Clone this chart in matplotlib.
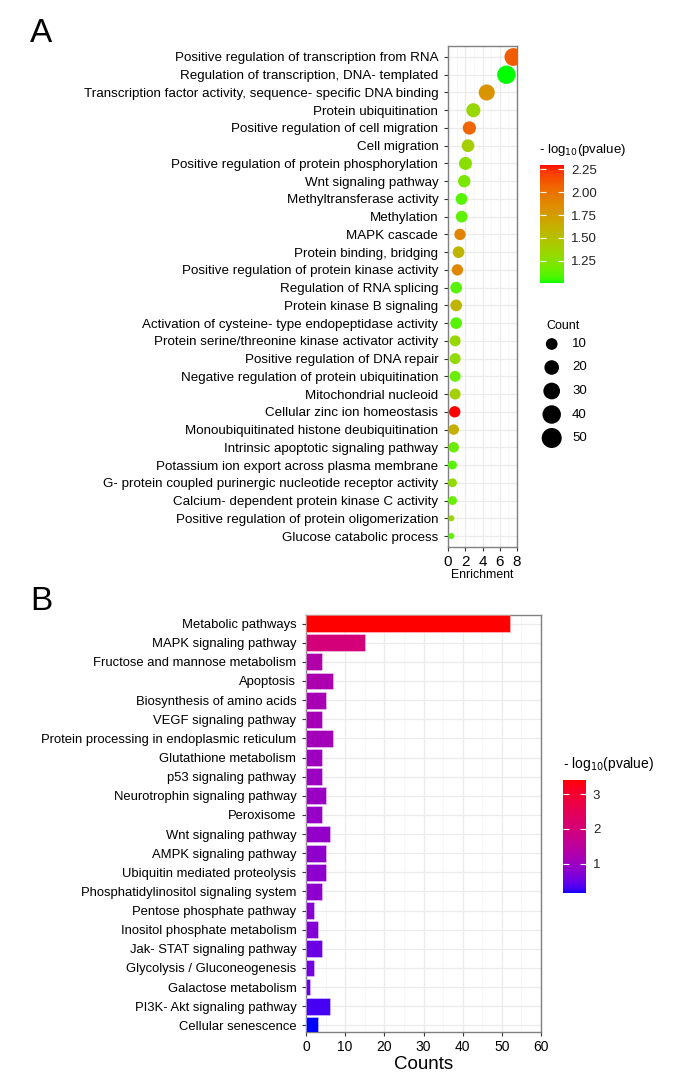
"""Recreate the GO bubble chart (A) and KEGG bar chart (B)."""

import matplotlib

matplotlib.use("Agg")
import matplotlib.pyplot as plt
import numpy as np
from matplotlib.cm import ScalarMappable
from matplotlib.colors import LinearSegmentedColormap, Normalize

plt.rcParams["font.family"] = ["Liberation Sans", "DejaVu Sans"]

# panel A: GO terms, top to bottom
go_terms = [
    "Positive regulation of transcription from RNA",
    "Regulation of transcription, DNA- templated",
    "Transcription factor activity, sequence- specific DNA binding",
    "Protein ubiquitination",
    "Positive regulation of cell migration",
    "Cell migration",
    "Positive regulation of protein phosphorylation",
    "Wnt signaling pathway",
    "Methyltransferase activity",
    "Methylation",
    "MAPK cascade",
    "Protein binding, bridging",
    "Positive regulation of protein kinase activity",
    "Regulation of RNA splicing",
    "Protein kinase B signaling",
    "Activation of cysteine- type endopeptidase activity",
    "Protein serine/threonine kinase activator activity",
    "Positive regulation of DNA repair",
    "Negative regulation of protein ubiquitination",
    "Mitochondrial nucleoid",
    "Cellular zinc ion homeostasis",
    "Monoubiquitinated histone deubiquitination",
    "Intrinsic apoptotic signaling pathway",
    "Potassium ion export across plasma membrane",
    "G- protein coupled purinergic nucleotide receptor activity",
    "Calcium- dependent protein kinase C activity",
    "Positive regulation of protein oligomerization",
    "Glucose catabolic process",
]
go_enrichment = [7.58, 6.77, 4.49, 2.94, 2.48, 2.32, 2.03, 1.88, 1.57, 1.59,
                 1.39, 1.22, 1.09, 0.95, 0.95, 0.95, 0.83, 0.83, 0.83, 0.83,
                 0.78, 0.66, 0.66, 0.52, 0.52, 0.52, 0.39, 0.39]
go_count = [36, 40, 27, 18, 15, 13, 14, 12, 10, 10, 9, 10, 9, 10, 10, 10,
            8, 8, 8, 8, 9, 7, 7, 4, 4, 4, 2, 2]
go_logp = [2.10, 1.01, 1.80, 1.32, 2.05, 1.40, 1.26, 1.20, 1.10, 1.12,
           1.90, 1.58, 1.88, 1.10, 1.58, 1.10, 1.32, 1.30, 1.15, 1.38,
           2.30, 1.62, 1.16, 1.10, 1.30, 1.14, 1.32, 1.10]
go_logp_range = (1.007, 2.297)
go_colorbar_ticks = [1.25, 1.50, 1.75, 2.00, 2.25]
count_legend_values = [10, 20, 30, 40, 50]
enrichment_ticks = [0, 2, 4, 6, 8]

# panel B: KEGG pathways, top to bottom
kegg_pathways = [
    "Metabolic pathways",
    "MAPK signaling pathway",
    "Fructose and mannose metabolism",
    "Apoptosis",
    "Biosynthesis of amino acids",
    "VEGF signaling pathway",
    "Protein processing in endoplasmic reticulum",
    "Glutathione metabolism",
    "p53 signaling pathway",
    "Neurotrophin signaling pathway",
    "Peroxisome",
    "Wnt signaling pathway",
    "AMPK signaling pathway",
    "Ubiquitin mediated proteolysis",
    "Phosphatidylinositol signaling system",
    "Pentose phosphate pathway",
    "Inositol phosphate metabolism",
    "Jak- STAT signaling pathway",
    "Glycolysis / Gluconeogenesis",
    "Galactose metabolism",
    "PI3K- Akt signaling pathway",
    "Cellular senescence",
]
kegg_counts = [52, 15, 4, 7, 5, 4, 7, 4, 4, 5, 4, 6, 5, 5, 4, 2, 3, 4, 2, 1, 6, 3]
kegg_logp = [3.41, 2.00, 1.30, 1.22, 1.15, 1.12, 1.08, 1.02, 0.98, 0.95, 0.92,
             0.88, 0.85, 0.82, 0.80, 0.75, 0.70, 0.50, 0.55, 0.45, 0.30, 0.15]
kegg_logp_range = (0.15, 3.41)
kegg_colorbar_ticks = [1, 2, 3]
counts_ticks = [0, 10, 20, 30, 40, 50, 60]

FIG_W, FIG_H = 685, 1087
GRID_MAJOR = "#ebebeb"
GRID_MINOR = "#f4f4f4"
BORDER = "#808080"

# sRGB <-> CIELAB so the gradients blend like ggplot's scale_colour_gradient
_M = np.array([[0.4124, 0.3576, 0.1805],
               [0.2126, 0.7152, 0.0722],
               [0.0193, 0.1192, 0.9505]])
_WHITE = np.array([0.95047, 1.0, 1.08883])
_D = 6 / 29


def srgb_to_lab(rgb):
    rgb = np.asarray(rgb, float)
    lin = np.where(rgb <= 0.04045, rgb / 12.92, ((rgb + 0.055) / 1.055) ** 2.4)
    xyz = _M @ lin / _WHITE
    f = np.where(xyz > _D ** 3, np.cbrt(xyz), xyz / (3 * _D ** 2) + 4 / 29)
    return np.array([116 * f[1] - 16, 500 * (f[0] - f[1]), 200 * (f[1] - f[2])])


def lab_to_srgb(lab):
    L, a, b = lab
    fy = (L + 16) / 116
    f = np.array([fy + a / 500, fy, fy - b / 200])
    xyz = np.where(f > _D, f ** 3, 3 * _D ** 2 * (f - 4 / 29)) * _WHITE
    lin = np.clip(np.linalg.inv(_M) @ xyz, 0, None)
    rgb = np.where(lin <= 0.0031308, 12.92 * lin, 1.055 * lin ** (1 / 2.4) - 0.055)
    return np.clip(rgb, 0, 1)


def lab_gradient(low, high, name):
    lab_low, lab_high = srgb_to_lab(low), srgb_to_lab(high)
    colors = [lab_to_srgb(lab_low + t * (lab_high - lab_low)) for t in np.linspace(0, 1, 256)]
    return LinearSegmentedColormap.from_list(name, colors)


def px_axes(fig, left, top, right, bottom):
    """Add axes from pixel edges (origin top-left)."""
    return fig.add_axes([left / FIG_W, 1 - bottom / FIG_H,
                         (right - left) / FIG_W, (bottom - top) / FIG_H])


def style_panel(ax):
    for spine in ax.spines.values():
        spine.set_color(BORDER)
        spine.set_linewidth(1.0)
    ax.tick_params(axis="both", which="major", length=3, width=0.8, color="#333333",
                   pad=3)
    ax.tick_params(axis="y", which="major", pad=4)
    ax.tick_params(axis="both", which="minor", length=0)
    ax.grid(True, which="major", color=GRID_MAJOR, linewidth=0.9, zorder=0)
    ax.grid(True, which="minor", axis="x", color=GRID_MINOR, linewidth=0.5, zorder=0)
    ax.set_axisbelow(True)


def draw_colorbar(fig, cax, cmap, norm, ticks, labels, title_xy, title_size):
    cbar = fig.colorbar(ScalarMappable(norm=norm, cmap=cmap), cax=cax, ticks=ticks)
    cbar.outline.set_visible(False)
    cax.set_yticklabels(labels, fontsize=9.5)
    cax.tick_params(axis="y", direction="in", length=4, width=0.8, colors="white",
                    labelcolor="#222222", left=True, right=True, pad=5)
    fig.text(title_xy[0] / FIG_W, 1 - title_xy[1] / FIG_H,
             r"- log$_{10}$(pvalue)", fontsize=title_size, va="center", ha="left")


def dot_diameter_px(count):
    return 6 + 14 * np.sqrt((np.asarray(count, float) - 2) / 48)


fig = plt.figure(figsize=(FIG_W / 100, FIG_H / 100), dpi=100)

# ---------- panel A ----------
green_red = lab_gradient([0, 1, 0], [1, 0, 0], "green_red")
go_norm = Normalize(*go_logp_range)
n_go = len(go_terms)
go_y = np.arange(n_go, 0, -1)

ax_a = px_axes(fig, 448, 46, 517, 547)
style_panel(ax_a)
ax_a.scatter(go_enrichment, go_y, s=(dot_diameter_px(go_count) * 0.72) ** 2,
             c=go_logp, cmap=green_red, norm=go_norm, linewidths=0, zorder=3)
ax_a.set_xlim(0, 8)
ax_a.set_ylim(0.38, n_go + 0.62)
ax_a.set_xticks(enrichment_ticks)
ax_a.set_xticks([1, 3, 5, 7], minor=True)
ax_a.set_xticklabels([str(t) for t in enrichment_ticks], fontsize=11)
ax_a.set_yticks(go_y)
ax_a.set_yticklabels(go_terms, fontsize=9.6)
ax_a.set_xlabel("Enrichment", fontsize=8.8, labelpad=0)

cax_a = px_axes(fig, 540, 165, 564, 283)
draw_colorbar(fig, cax_a, green_red, go_norm, go_colorbar_ticks,
              [f"{t:.2f}" for t in go_colorbar_ticks], (539, 150), 9.5)

# count size legend
fig.text(546 / FIG_W, 1 - 326 / FIG_H, "Count", fontsize=9, va="center")
ax_leg = px_axes(fig, 530, 332, 600, 450)
ax_leg.set_xlim(530, 600)
ax_leg.set_ylim(450, 332)
ax_leg.axis("off")
leg_y = 344 + np.arange(len(count_legend_values)) * 23.5
ax_leg.scatter(np.full(len(count_legend_values), 551.7), leg_y,
               s=(dot_diameter_px(count_legend_values) * 0.72) ** 2, color="black",
               linewidths=0)
for value, y in zip(count_legend_values, leg_y):
    ax_leg.text(572, y, str(value), fontsize=9.5, va="center", ha="left")

fig.text(30 / FIG_W, 1 - 33 / FIG_H, "A", fontsize=24, va="center", ha="left")

# ---------- panel B ----------
blue_red = lab_gradient([0, 0, 1], [1, 0, 0], "blue_red")
kegg_norm = Normalize(*kegg_logp_range)
n_kegg = len(kegg_pathways)
kegg_y = np.arange(n_kegg, 0, -1)

ax_b = px_axes(fig, 306, 615, 541, 1032)
style_panel(ax_b)
ax_b.barh(kegg_y, kegg_counts, height=0.88, color=blue_red(kegg_norm(kegg_logp)),
          edgecolor=(1, 1, 1, 0.5), linewidth=0.5, zorder=3)
ax_b.set_xlim(0, 60)
ax_b.set_ylim(0.65, n_kegg + 0.45)
ax_b.set_xticks(counts_ticks)
ax_b.set_xticks([5, 15, 25, 35, 45, 55], minor=True)
ax_b.set_xticklabels([str(t) for t in counts_ticks], fontsize=10)
ax_b.set_yticks(kegg_y)
ax_b.set_yticklabels(kegg_pathways, fontsize=9.4)
ax_b.set_xlabel("Counts", fontsize=13.5, labelpad=1)

cax_b = px_axes(fig, 563, 780, 586, 893)
draw_colorbar(fig, cax_b, blue_red, kegg_norm, kegg_colorbar_ticks,
              [str(t) for t in kegg_colorbar_ticks], (563, 764), 10)

fig.text(30 / FIG_W, 1 - 602 / FIG_H, "B", fontsize=24, va="center", ha="left")

fig.savefig("out.png", dpi=100)
plt.close(fig)
